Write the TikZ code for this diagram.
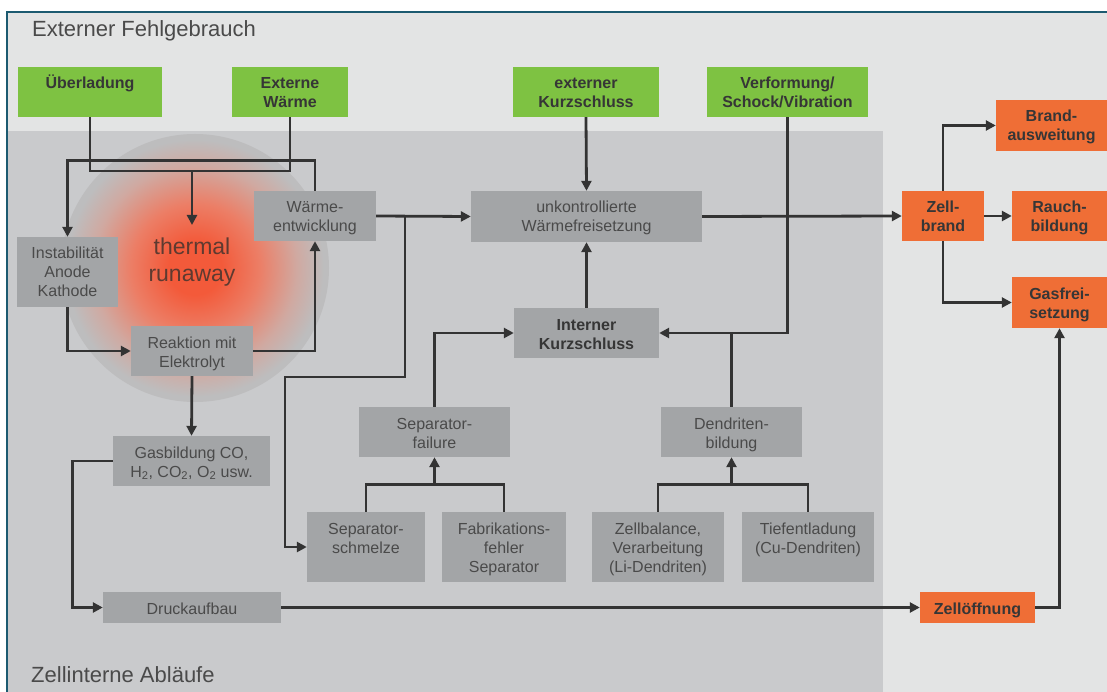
\documentclass[tikz,border=0pt]{standalone}
\usepackage{fontspec}
\setmainfont{Liberation Sans}
\usetikzlibrary{arrows.meta}

\definecolor{pagegray}{HTML}{E3E4E4}
\definecolor{zonegray}{HTML}{C9CACC}
\definecolor{boxgray}{HTML}{A3A5A7}
\definecolor{boxtext}{HTML}{4A4A4A}
\definecolor{boldtext}{HTML}{363636}
\definecolor{leafgreen}{HTML}{7EC242}
\definecolor{fireorange}{HTML}{EF6E36}
\definecolor{framecol}{HTML}{1C5A70}
\definecolor{linecol}{HTML}{333333}
\definecolor{hotcore}{HTML}{F35A3A}
\definecolor{hotmid}{HTML}{EC7E66}
\definecolor{hotfade}{HTML}{D0A9A1}
\definecolor{blobgray}{HTML}{BDBDBE}
\definecolor{runtext}{HTML}{5E3A30}

% glow of the runaway zone (radius of the circle is about 35bp)
\pgfdeclareradialshading{glow}{\pgfpoint{0bp}{0bp}}{color(0bp)=(hotcore); color(5bp)=(hotcore); color(12bp)=(hotmid); color(19bp)=(hotfade); color(24bp)=(blobgray); color(33bp)=(blobgray); color(35.4bp)=(zonegray); color(50bp)=(zonegray)}

% box content: text hangs from the top edge
\newcommand{\boxtxt}[3]{\parbox[c][#2][t]{#1}{\centering\rule{0pt}{22pt}#3}}

\begin{document}
\begin{tikzpicture}[x=1pt,y=-1pt,
  box/.style={fill=boxgray,text=boxtext,inner sep=0pt,font=\fontsize{16}{19}\selectfont},
  boxB/.style={box,text=boldtext,font=\fontsize{16}{19}\selectfont\bfseries},
  boxG/.style={boxB,fill=leafgreen},
  boxO/.style={boxB,fill=fireorange},
  zone/.style={font=\fontsize{22}{26}\selectfont,text=boxtext,inner sep=0pt},
  wire/.style={draw=linecol,line width=2.8pt},
  arr/.style={wire,-{Triangle[length=10pt,width=10pt]}}]
\useasboundingbox (0,0) rectangle (1107,692);

% backgrounds
\fill[white] (0,0) rectangle (1107,692);
\fill[pagegray] (7,12) rectangle (1107,692);
\fill[zonegray] (8,131) rectangle (883,692);
\shade[shading=glow] (195,268) circle (134);
\draw[framecol,line width=2.5pt] (7,692) -- (7,12) -- (1107,12);

\node[zone,anchor=base west] (ext) at (32,37) {Externer Fehlgebrauch};
\node[zone,anchor=base west] (intern) at (31,682) {Zellinterne Abläufe};
\node[text=runtext,font=\fontsize{23}{27}\selectfont,align=center] (runaway) at (192,262) {thermal\\runaway};

% external causes
\node[boxG] (ueber) at (90,92) {\boxtxt{144pt}{50pt}{Überladung}};
\node[boxG] (extw) at (290,92) {\boxtxt{116pt}{50pt}{Externe\\Wärme}};
\node[boxG] (extks) at (586,92) {\boxtxt{146pt}{50pt}{externer\\Kurzschluss}};
\node[boxG] (verf) at (787.5,92) {\boxtxt{161pt}{50pt}{Verformung/\\Schock/Vibration}};

% cell internal
\node[box] (instab) at (67.5,272) {\boxtxt{101pt}{70pt}{Instabilität\\Anode\\Kathode}};
\node[box] (reakt) at (192,351) {\boxtxt{122pt}{50pt}{Reaktion mit\\Elektrolyt}};
\node[box] (waerme) at (315,216) {\boxtxt{122pt}{50pt}{Wärme-\\entwicklung}};
\node[box] (gas) at (191.5,461) {\boxtxt{157pt}{50pt}{Gasbildung CO,\\H\textsubscript{2}, CO\textsubscript{2}, O\textsubscript{2} usw.}};
\node[box] (druck) at (192,607.5) {\boxtxt{178pt}{31pt}{Druckaufbau}};
\node[box] (unk) at (586.5,216.5) {\boxtxt{231pt}{51pt}{unkontrollierte\\Wärmefreisetzung}};
\node[boxB] (internks) at (586.5,333) {\boxtxt{145pt}{50pt}{Interner\\Kurzschluss}};
\node[box] (sepfail) at (434.5,432) {\boxtxt{151pt}{50pt}{Separator-\\failure}};
\node[box] (dendr) at (731.5,432) {\boxtxt{141pt}{50pt}{Dendriten-\\bildung}};
\node[box] (sepschm) at (366,547) {\boxtxt{118pt}{70pt}{Separator-\\schmelze}};
\node[box] (fabr) at (504,547) {\boxtxt{124pt}{70pt}{Fabrikations-\\fehler\\Separator}};
\node[box] (zellbal) at (658,547) {\boxtxt{132pt}{70pt}{Zellbalance,\\Verarbeitung\\(Li-Dendriten)}};
\node[box] (tiefent) at (808,547) {\boxtxt{132pt}{70pt}{Tiefentladung\\(Cu-Dendriten)}};

% consequences
\node[boxO] (brand) at (943,216) {\boxtxt{82pt}{50pt}{Zell-\\brand}};
\node[boxO] (brandaus) at (1051.5,125.5) {\boxtxt{111pt}{51pt}{Brand-\\ausweitung}};
\node[boxO] (rauch) at (1059.5,216) {\boxtxt{95pt}{50pt}{Rauch-\\bildung}};
\node[boxO] (gasfrei) at (1059.5,302.5) {\boxtxt{95pt}{51pt}{Gasfrei-\\setzung}};
\node[boxO] (zelloeff) at (977.5,607.5) {\boxtxt{115pt}{31pt}{Zellöffnung}};

\coordinate (jA) at (192,171);
\coordinate (jT) at (192,225);
\coordinate (split) at (405,216);

% thermal runaway loop
\draw[wire] (ueber.south) |- (jA) -| (extw.south);
\draw[arr] (jA) -- (jT);
\draw[arr] (waerme.north) -- ++(0,-30) -| (instab.north);
\draw[arr] (instab.south) |- (reakt.west);
\draw[arr] (reakt.east) -| (waerme.south);
\draw[arr] (reakt.south) -- (gas.north);
\draw[arr] (gas.west) -- ++(-40,0) |- (druck.west);
\draw[arr] (druck.east) -- (zelloeff.west);
\draw[arr] (zelloeff.east) -| (gasfrei.south);

% heat and short circuits
\draw[arr] (waerme.east) -- (unk.west);
\draw[arr] (split) -- (405,377) -- (285,377) |- (sepschm.west);
\draw[arr] (extks.south) -- (unk.north);
\draw[arr] (internks.north) -- (unk.south);
\draw[arr] (unk.east) -- (brand.west);
\draw[arr] (verf.south) |- (internks.east);
\draw[wire] (dendr.north) -- (dendr.north |- internks.east);
\draw[arr] (sepfail.north) |- (internks.west);
\draw[wire] (sepschm.north) -- ++(0,-27) -| (fabr.north);
\draw[arr] ([yshift=-28pt]sepfail.south) -- (sepfail.south);
\draw[wire] (zellbal.north) -- ++(0,-27) -| (tiefent.north);
\draw[arr] ([yshift=-28pt]dendr.south) -- (dendr.south);

% fire
\draw[arr] (brand.north) |- (brandaus.west);
\draw[arr] (brand.east) -- (rauch.west);
\draw[arr] (brand.south) |- (gasfrei.west);
\end{tikzpicture}
\end{document}
